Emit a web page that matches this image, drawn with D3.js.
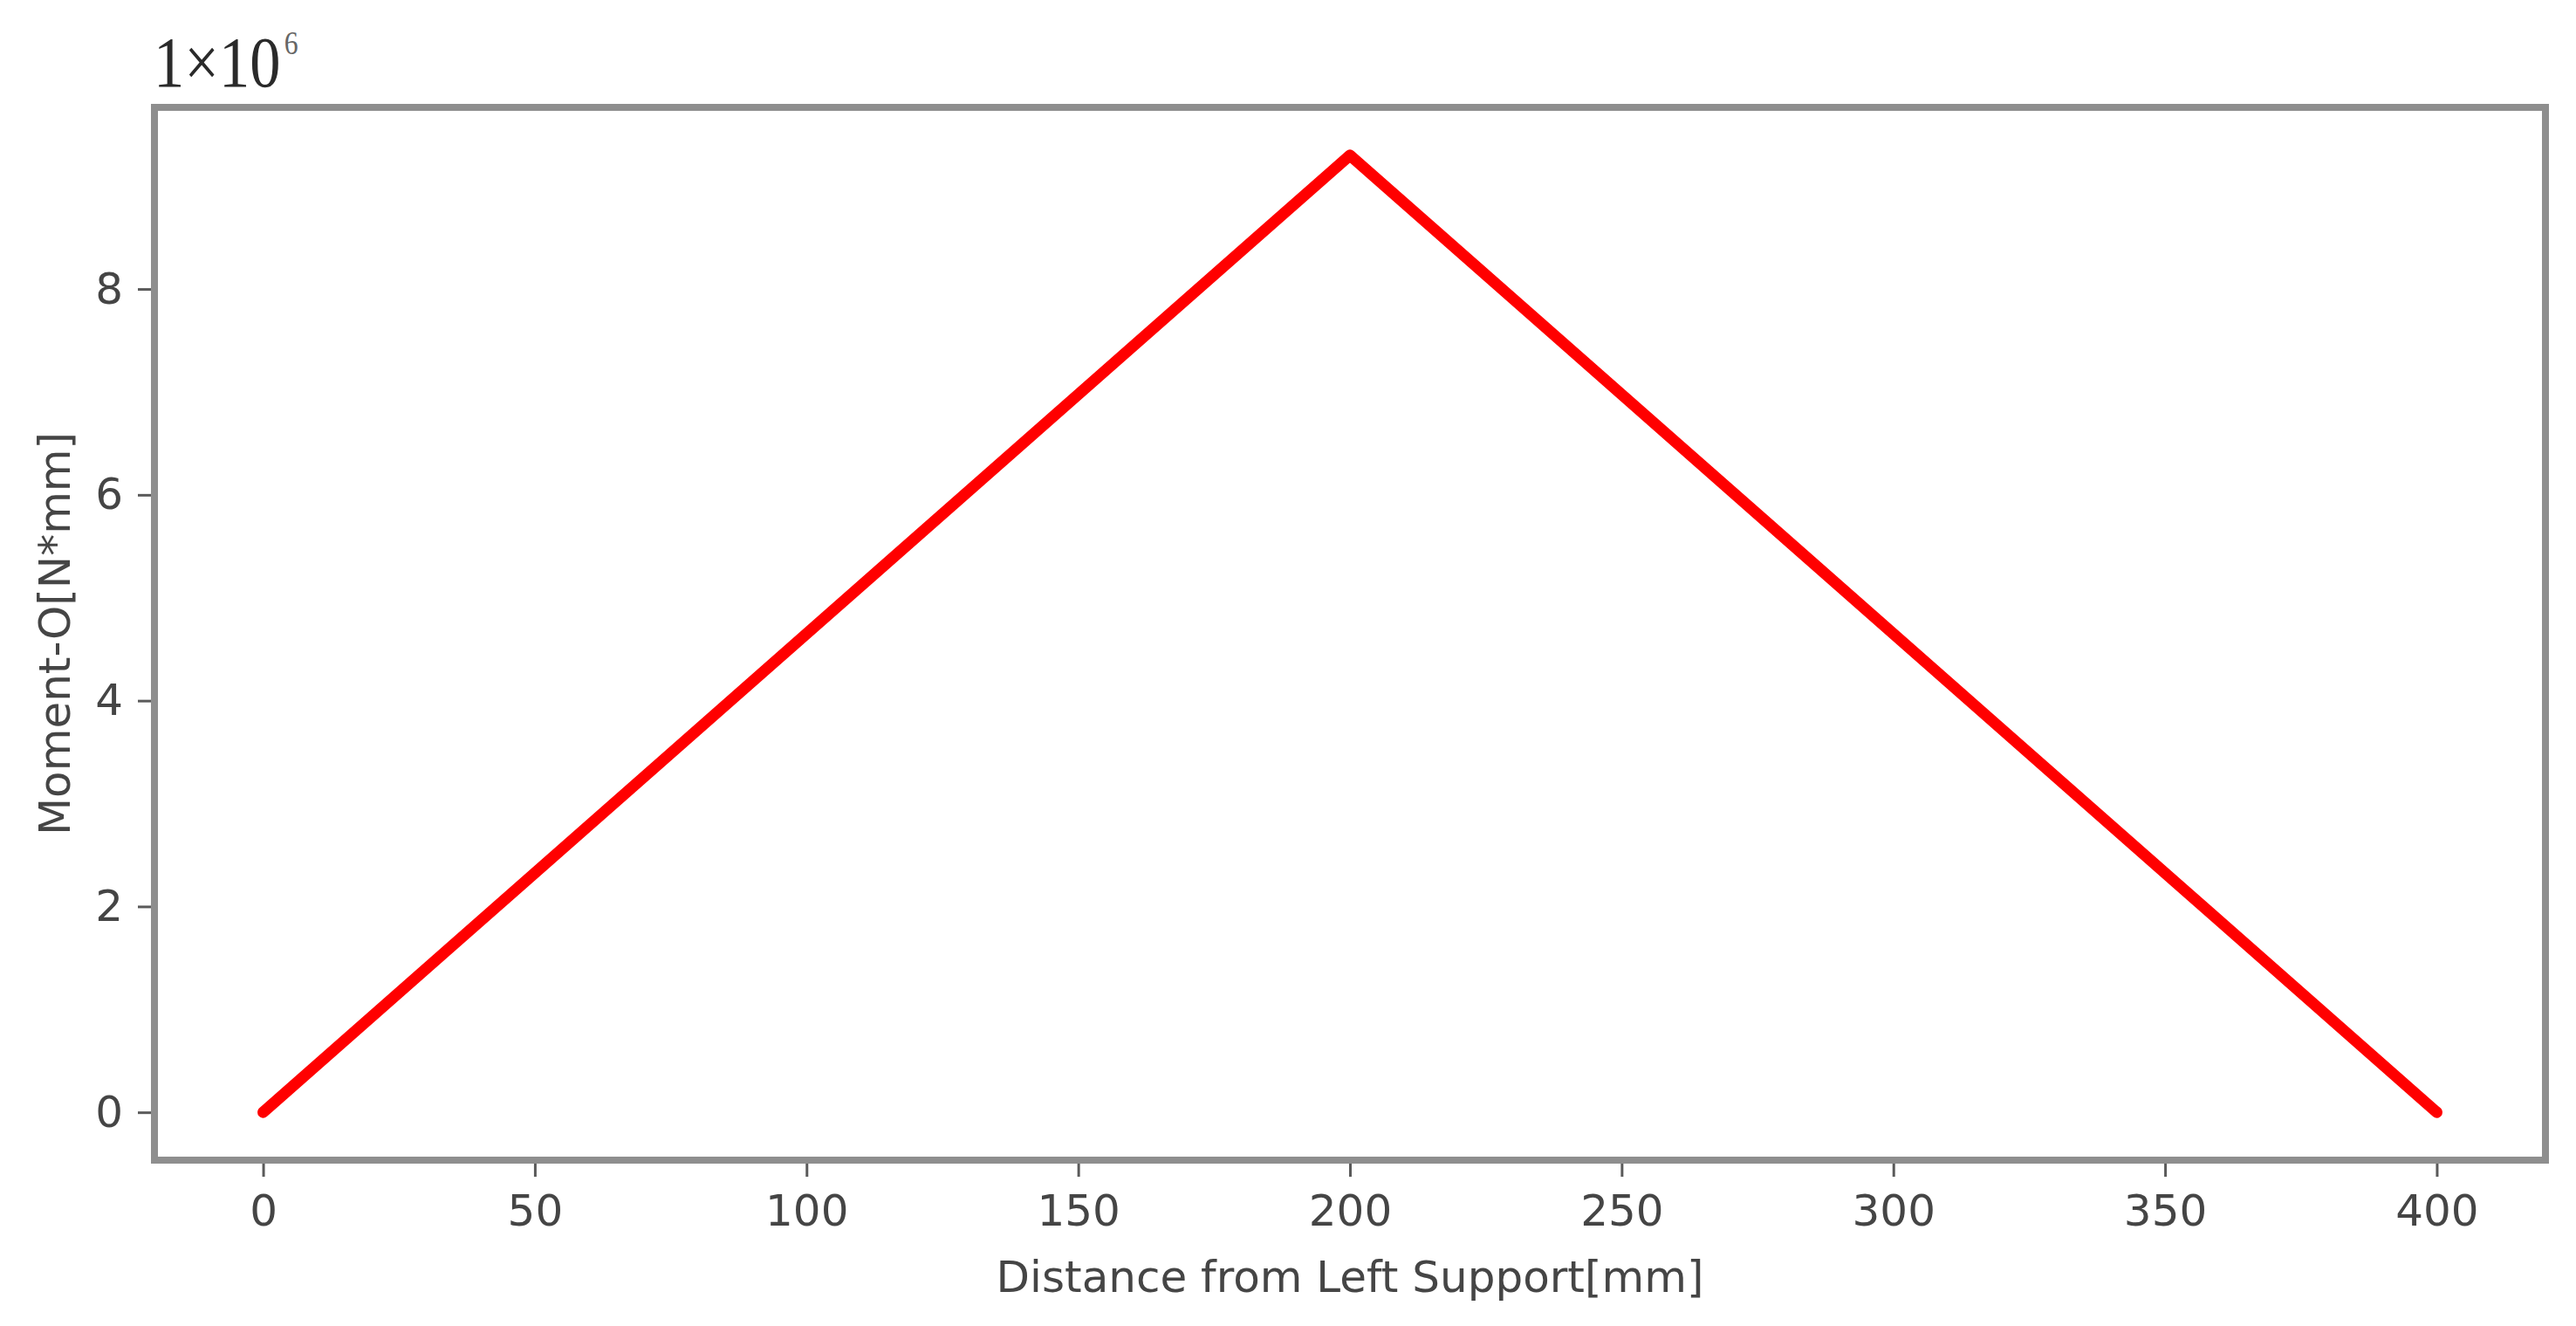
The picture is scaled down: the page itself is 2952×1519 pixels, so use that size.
<!DOCTYPE html>
<html>
<head>
<meta charset="utf-8">
<script src="https://cdn.jsdelivr.net/npm/d3@7"></script>
<style>
  body { margin: 0; background: #fff; }
  .tick text { font-family: "DejaVu Sans", sans-serif; font-size: 50px; fill: #454545; }
  .tick line { stroke: #5a5a5a; stroke-width: 3; }
  .axisLabel { font-family: "DejaVu Sans", sans-serif; font-size: 50px; fill: #454545; }
</style>
</head>
<body>
<div id="chart"></div>
<script>
/*------------------------------
 DATA
 ----------------------------*/
const distance = [0, 200, 400];          // mm
const moment = [0, 9.3e6, 0];            // N*mm
const xTicks = [0, 50, 100, 150, 200, 250, 300, 350, 400];
const yTicks = [0, 2e6, 4e6, 6e6, 8e6];
const X_LABEL = "Distance from Left Support[mm]";
const Y_LABEL = "Moment-O[N*mm]";

/*------------------------------
 LAYOUT
 ----------------------------*/
const SVG_WIDTH = 2952;
const SVG_HEIGHT = 1519;
const PLOT = {left: 177, right: 2917, top: 123, bottom: 1329};
const TICK = 19;

const svg = d3.select("#chart").append("svg")
    .attr("width", SVG_WIDTH)
    .attr("height", SVG_HEIGHT)
    .style("background", "#fff");

// matplotlib style 5% margins around the data
function paddedDomain(values) {
    const lo = d3.min(values), hi = d3.max(values);
    const pad = (hi - lo) * 0.05;
    return [lo - pad, hi + pad];
}

const xScale = d3.scaleLinear().domain(paddedDomain(distance)).range([PLOT.left, PLOT.right]);
const yScale = d3.scaleLinear().domain(paddedDomain(moment)).range([PLOT.bottom, PLOT.top]);

// axes
const xAxis = svg.append("g")
    .attr("transform", `translate(0, ${PLOT.bottom})`)
    .call(d3.axisBottom(xScale).tickValues(xTicks).tickSize(TICK).tickPadding(20).tickFormat(d3.format("d")));
xAxis.select(".domain").remove();

const yAxis = svg.append("g")
    .attr("transform", `translate(${PLOT.left}, 0)`)
    .call(d3.axisLeft(yScale).tickValues(yTicks).tickSize(TICK).tickPadding(17).tickFormat(d => d / 1e6));
yAxis.select(".domain").remove();

// line
const pts = distance.map((d, i) => [d, moment[i]]);
svg.append("path")
    .datum(pts)
    .attr("fill", "none")
    .attr("stroke", "#ff0000")
    .attr("stroke-width", 13)
    .attr("stroke-linejoin", "round")
    .attr("stroke-linecap", "round")
    .attr("d", d3.line().x(d => xScale(d[0])).y(d => yScale(d[1])));

// frame
svg.append("rect")
    .attr("x", PLOT.left)
    .attr("y", PLOT.top)
    .attr("width", PLOT.right - PLOT.left)
    .attr("height", PLOT.bottom - PLOT.top)
    .attr("fill", "none")
    .attr("stroke", "#8e8e8e")
    .attr("stroke-width", 8);

// axis labels
svg.append("text")
    .attr("class", "axisLabel")
    .attr("x", (PLOT.left + PLOT.right) / 2)
    .attr("y", 1480)
    .attr("text-anchor", "middle")
    .text(X_LABEL);

svg.append("text")
    .attr("class", "axisLabel")
    .attr("transform", `translate(80, ${(PLOT.top + PLOT.bottom) / 2}) rotate(-90)`)
    .attr("text-anchor", "middle")
    .text(Y_LABEL);

// offset text 1x10^6
const offset = svg.append("g").attr("transform", "translate(176, 99) scale(0.86, 1)");
offset.append("text")
    .attr("font-family", "Liberation Serif, serif")
    .attr("font-size", 82)
    .attr("fill", "#2a2a2a")
    .text("1×10");
offset.append("text")
    .attr("x", 174)
    .attr("y", -37)
    .attr("font-family", "Liberation Serif, serif")
    .attr("font-size", 37)
    .attr("fill", "#666")
    .text("6");
</script>
</body>
</html>
